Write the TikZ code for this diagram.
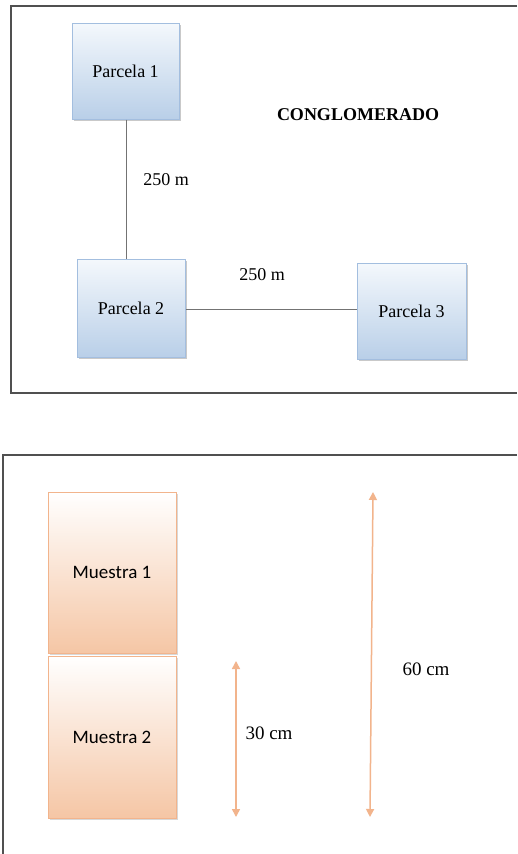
\documentclass[tikz,border=0pt]{standalone}
\usepackage{fontspec}
\setmainfont{Liberation Serif}
\newfontfamily\calib{Carlito}
\usetikzlibrary{shadows,arrows.meta}
\definecolor{bluetop}{HTML}{F4F8FC}
\definecolor{bluebot}{HTML}{B9CFE8}
\definecolor{blueedge}{HTML}{A3BEDF}
\definecolor{orgtop}{HTML}{FFFFFF}
\definecolor{orgbot}{HTML}{F5C6A5}
\definecolor{orgedge}{HTML}{F2B48C}
\definecolor{framecol}{HTML}{505050}
\begin{document}
\begin{tikzpicture}[x=1pt,y=-1pt,
  parcela/.style={draw=blueedge,line width=1pt,top color=bluetop,bottom color=bluebot,
    minimum width=107pt,minimum height=96pt,inner sep=0pt,
    drop shadow={shadow xshift=2pt,shadow yshift=-2pt,fill=black!35,opacity=0.6},
    font=\fontsize{18}{20}\selectfont},
  muestra/.style={draw=orgedge,line width=1pt,top color=orgtop,bottom color=orgbot,
    minimum width=128pt,minimum height=161pt,inner sep=0pt,
    drop shadow={shadow xshift=2pt,shadow yshift=-2pt,fill=black!30,opacity=0.5},
    font=\calib\fontsize{19}{21}\selectfont},
  lbl/.style={font=\fontsize{18}{20}\selectfont,inner sep=0pt},
  frame/.style={draw=framecol,line width=1.5pt},
  link/.style={draw=black!55,line width=1pt},
  dim/.style={draw=orgedge,line width=1.5pt,{Triangle[width=8pt,length=8pt]}-{Triangle[width=8pt,length=8pt]}}
]
\useasboundingbox (0,0) rectangle (517,854);
\fill[white] (0,0) rectangle (517,854);
% frames
\draw[frame] (517,6) -- (11,6) -- (11,393) -- (517,393);
\draw[frame] (517,455) -- (3,455) -- (3,854);
% top diagram
\node[parcela] (p1) at (125.5,71) {Parcela 1};
\node[parcela,minimum width=108pt,minimum height=98pt] (p2) at (131,308) {Parcela 2};
\node[parcela,minimum width=109pt,minimum height=96pt] (p3) at (411.5,311) {Parcela 3};
\coordinate (p2top) at (126,259);
\draw[link] (p1.south -| p2top) -- (p2top);
\draw[link] (p2.east |- 0,309) -- (p3.west |- 0,309);
\node[font=\bfseries\fontsize{18}{20}\selectfont,inner sep=0pt] (title) at (358,115) {CONGLOMERADO};
\node[lbl] (d1) at (166,180) {250 m};
\node[lbl] (d2) at (262,275) {250 m};
% bottom diagram
\node[muestra] (m1) at (112,572.5) {Muestra 1};
\node[muestra,minimum height=162pt] (m2) at (112,737) {Muestra 2};
\coordinate (a1t) at (236,661);
\coordinate (a1b) at (236,817);
\coordinate (a2t) at (373,492);
\coordinate (a2b) at (370,817);
\draw[dim] (a1t) -- (a1b);
\draw[dim] (a2t) -- (a2b);
\node[lbl,font=\fontsize{19}{21}\selectfont] (l30) at (269,733) {30 cm};
\node[lbl,font=\fontsize{19}{21}\selectfont] (l60) at (426,669) {60 cm};
\end{tikzpicture}
\end{document}
